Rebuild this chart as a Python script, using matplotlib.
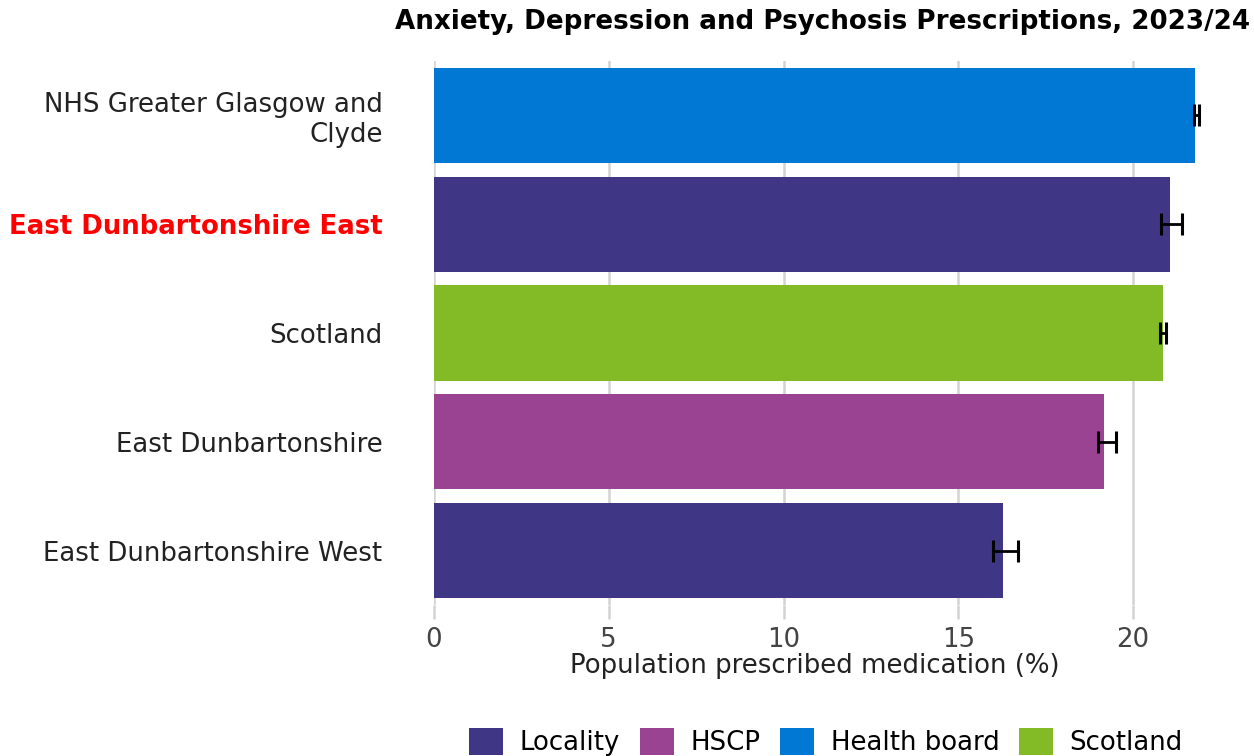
import numpy as np
import matplotlib
matplotlib.use("Agg")
import matplotlib.pyplot as plt
from matplotlib.patches import Patch

# data (top to bottom)
areas = ["NHS Greater Glasgow and\nClyde", "East Dunbartonshire East", "Scotland",
         "East Dunbartonshire", "East Dunbartonshire West"]
area_type = ["Health board", "Locality", "Scotland", "HSCP", "Locality"]
values = [21.78, 21.06, 20.86, 19.17, 16.27]
ci_low = [21.75, 20.79, 20.78, 18.99, 16.00]
ci_high = [21.88, 21.41, 20.94, 19.51, 16.71]
highlight = "East Dunbartonshire East"

legend_order = ["Locality", "HSCP", "Health board", "Scotland"]
type_colors = {"Locality": "#3F3685", "HSCP": "#9B4393",
               "Health board": "#0078D4", "Scotland": "#83BB26"}

FS = 18.7
W, H = 1254, 756
fig = plt.figure(figsize=(W / 100, H / 100), dpi=100)
ax = fig.add_axes([434 / W, 1 - 605 / H, (1250 - 434) / W, (605 - 61) / H])

y = np.arange(len(areas))
cols = [type_colors[t] for t in area_type]
ax.barh(y, values, height=0.875, color=cols, zorder=2)

vals = np.array(values)
err = [vals - np.array(ci_low), np.array(ci_high) - vals]
ax.errorbar(vals, y, xerr=err, fmt="none", ecolor="black",
            elinewidth=2, capsize=8, capthick=2.2, zorder=3)

ax.set_xlim(0, (1250 - 434) / 34.95)
ax.set_ylim(len(areas) - 0.5, -0.5)
ax.set_xticks([0, 5, 10, 15, 20])
ax.grid(axis="x", color="#d3d3d3", linewidth=1.8, zorder=0)
for s in ax.spines.values():
    s.set_visible(False)

ax.tick_params(axis="x", length=10, width=1.8, color="#d3d3d3",
               labelsize=FS, labelcolor="#444444", pad=6)
ax.tick_params(axis="y", length=0, pad=37, labelsize=FS)
ax.set_yticks(y)
ax.set_yticklabels(areas, color="#222222")
for lab in ax.get_yticklabels():
    if lab.get_text() == highlight:
        lab.set_color("red")
        lab.set_fontweight("bold")

fig.text(815 / W, 1 - 666 / H, "Population prescribed medication (%)",
         ha="center", va="center", fontsize=FS, color="#222222")
fig.text(1250 / W, 1 - 22 / H,
         "Anxiety, Depression and Psychosis Prescriptions, 2023/24",
         ha="right", va="center", fontsize=18.8, fontweight="bold")

handles = [Patch(facecolor=type_colors[t], label=t) for t in legend_order]
fig.legend(handles=handles, loc="center", bbox_to_anchor=(826 / W, 1 - 742 / H),
           ncol=4, frameon=False, fontsize=FS, handlelength=1.3,
           handleheight=1.25, handletextpad=0.65, columnspacing=0.75)

fig.savefig("out.png", dpi=100)
